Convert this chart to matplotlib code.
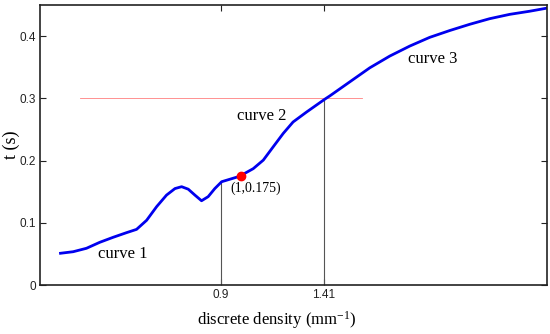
import numpy as np
import matplotlib.pyplot as plt

plt.rcParams["mathtext.fontset"] = "custom"
plt.rcParams["mathtext.rm"] = "Liberation Serif"
plt.rcParams["mathtext.it"] = "Liberation Serif:italic"

# curve
dens = [0.102, 0.165, 0.231, 0.297, 0.363, 0.429, 0.480, 0.530, 0.580, 0.629,
        0.671, 0.704, 0.737, 0.770, 0.803, 0.836, 0.869, 0.903, 0.944, 0.985,
        1.01, 1.06, 1.11, 1.159, 1.209, 1.258, 1.325, 1.416, 1.441, 1.540,
        1.639, 1.739, 1.838, 1.937, 2.037, 2.136, 2.235, 2.335, 2.434, 2.52]
t = [0.051, 0.0535, 0.059, 0.0686, 0.0766, 0.084, 0.0894, 0.104, 0.126, 0.1445,
     0.155, 0.158, 0.154, 0.1445, 0.1354, 0.142, 0.155, 0.166, 0.170, 0.174,
     0.178, 0.187, 0.2007, 0.222, 0.2436, 0.262, 0.278, 0.2987, 0.304, 0.3265,
     0.349, 0.368, 0.384, 0.398, 0.409, 0.419, 0.428, 0.435, 0.440, 0.445]
point_x, point_y = 1.0, 0.175
vlines_x = [0.9, 1.41]
vlines_top = [0.166, 0.298]
hline_y = 0.3
hline_x = [0.2, 1.6]
yticks = [0, 0.1, 0.2, 0.3, 0.4]
ytick_labels = ["0", "0.1", "0.2", "0.3", "0.4"]
xtick_labels = ["0.9", "1.41"]

serif = "Liberation Serif"

fig = plt.figure(figsize=(5.5, 3.34), dpi=100)
ax = fig.add_axes([0.0727, 0.1467, 0.9218, 0.8383])

ax.plot(hline_x, [hline_y, hline_y], color="#ff8080", lw=0.6)
for xv, top in zip(vlines_x, vlines_top):
    ax.plot([xv, xv], [0, top], color="#555555", lw=0.8)
ax.plot(dens, t, color="#0000ee", lw=2, solid_joinstyle="round")
ax.plot(point_x, point_y, "o", color="red", ms=6)

ax.text(0.41, 0.05, "curve 1", family=serif, fontsize=12, ha="center", va="center")
ax.text(1.10, 0.272, "curve 2", family=serif, fontsize=12, ha="center", va="center")
ax.text(1.95, 0.363, "curve 3", family=serif, fontsize=12, ha="center", va="center")
ax.text(1.07, 0.156, "(1,0.175)", family=serif, fontsize=10, ha="center", va="center")

ax.set_xlim(0, 2.52)
ax.set_ylim(0, 0.45)
ax.set_xticks(vlines_x)
ax.set_xticklabels(xtick_labels, family="Liberation Sans", fontsize=8.5)
ax.set_yticks(yticks)
ax.set_yticklabels(ytick_labels, family="Liberation Sans", fontsize=8.5)
ax.tick_params(direction="in", top=True, right=True, length=4, width=0.8,
               colors="#222222", pad=3)
for s in ax.spines.values():
    s.set_linewidth(1.2)
    s.set_color("#222222")

ax.set_xlabel("discrete density (mm$^{-1}$)", family=serif, fontsize=12)
ax.xaxis.set_label_coords(0.467, -0.085)
ax.set_ylabel("t (s)", family=serif, fontsize=13)
ax.yaxis.set_label_coords(-0.039, 0.5)

fig.savefig("out.png", dpi=100)
